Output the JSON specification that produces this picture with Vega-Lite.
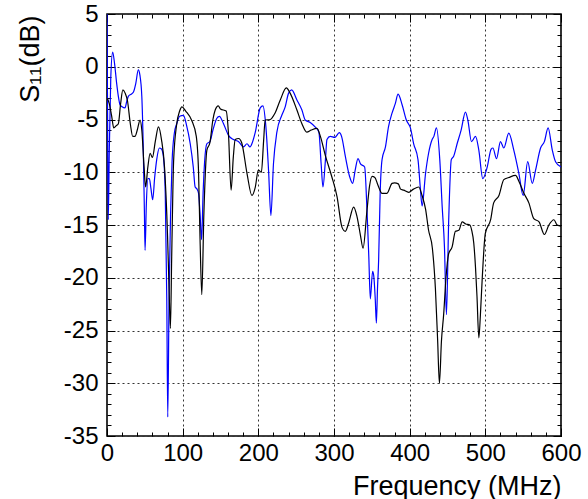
{
  "$schema": "https://vega.github.io/schema/vega-lite/v6.json",
  "autosize": {"type": "none"},
  "width": 454,
  "height": 422,
  "padding": {"left": 107, "top": 14, "right": 27, "bottom": 63},
  "background": "white",
  "config": {
    "view": {"stroke": "black", "strokeWidth": 1.6},
    "font": "Liberation Sans",
    "axis": {"labelFont": "Liberation Sans", "titleFont": "Liberation Sans", "labelColor": "black", "titleColor": "black", "tickColor": "black", "domain": false, "labelFlush": false, "labelOverlap": false, "titleFontWeight": "normal"}
  },
  "datasets": {
    "blue": [
      {"f":0,"d":5.0},{"f":0.8,"d":-5},{"f":1.7,"d":-14.5},{"f":3,"d":-8},{"f":5,"d":-1},{"f":7.5,"d":1.4},{"f":10,"d":0.3},{"f":12.8,"d":-1.6},{"f":15,"d":-2.8},{"f":17.2,"d":-3.6},{"f":20,"d":-3.8},{"f":23.8,"d":-3.9},{"f":26,"d":-3.3},{"f":28.2,"d":-2.8},{"f":32,"d":-2.6},{"f":35,"d":-2.4},{"f":38,"d":-1.6},{"f":41.4,"d":-0.3},{"f":43.5,"d":-0.8},{"f":46,"d":-2.8},{"f":48,"d":-8},{"f":49.4,"d":-13.6},{"f":50.3,"d":-17.4},{"f":52,"d":-13},{"f":54,"d":-10.6},{"f":56,"d":-10.6},{"f":58,"d":-11.5},{"f":60.4,"d":-12.6},{"f":63,"d":-10.5},{"f":65.7,"d":-8.8},{"f":69.3,"d":-7.7},{"f":72,"d":-7.8},{"f":74.5,"d":-8.5},{"f":77,"d":-12},{"f":79,"d":-22},{"f":80.3,"d":-33.2},{"f":82,"d":-22},{"f":84,"d":-14},{"f":86,"d":-9},{"f":89,"d":-6.3},{"f":92.2,"d":-5.4},{"f":96,"d":-4.7},{"f":101,"d":-4.6},{"f":105,"d":-5.5},{"f":110,"d":-7.3},{"f":114,"d":-9.5},{"f":116.5,"d":-11.4},{"f":119,"d":-11.6},{"f":121,"d":-12},{"f":123,"d":-14},{"f":125,"d":-16.4},{"f":127,"d":-12},{"f":129,"d":-9},{"f":132,"d":-7.3},{"f":136,"d":-7.1},{"f":140,"d":-6},{"f":145,"d":-4.9},{"f":148.5,"d":-4.7},{"f":154,"d":-5.4},{"f":160.5,"d":-6.5},{"f":167,"d":-6.9},{"f":174,"d":-7.1},{"f":180.4,"d":-7.6},{"f":185,"d":-7.3},{"f":189,"d":-7.6},{"f":192,"d":-7.2},{"f":196,"d":-6.2},{"f":202.5,"d":-3.9},{"f":206,"d":-3.7},{"f":210,"d":-5.7},{"f":213.5,"d":-9.8},{"f":216.6,"d":-14.1},{"f":220,"d":-9.2},{"f":224.5,"d":-6.2},{"f":231,"d":-4.6},{"f":235.5,"d":-3.8},{"f":240,"d":-2.5},{"f":244,"d":-2.2},{"f":251,"d":-3.15},{"f":257.6,"d":-4.1},{"f":262,"d":-5.05},{"f":269,"d":-5.3},{"f":275,"d":-5.7},{"f":280,"d":-6.2},{"f":283,"d":-9.2},{"f":285.4,"d":-11.4},{"f":288.5,"d":-9.0},{"f":290.7,"d":-6.9},{"f":295,"d":-6.6},{"f":301,"d":-6.7},{"f":307,"d":-6.25},{"f":310,"d":-6.6},{"f":315,"d":-8.5},{"f":320.6,"d":-10.4},{"f":324.6,"d":-11.05},{"f":328,"d":-9.8},{"f":331.7,"d":-8.7},{"f":335,"d":-9.2},{"f":340.5,"d":-9.5},{"f":343.6,"d":-13.6},{"f":346,"d":-18},{"f":348,"d":-22.0},{"f":351,"d":-19.4},{"f":352.5,"d":-19.8},{"f":354.5,"d":-22},{"f":356,"d":-24.3},{"f":357.5,"d":-21},{"f":359,"d":-18.3},{"f":361,"d":-12},{"f":363.5,"d":-8.8},{"f":368,"d":-7.6},{"f":372,"d":-5.7},{"f":376.7,"d":-4.4},{"f":381,"d":-3.5},{"f":384.7,"d":-2.6},{"f":390,"d":-3.6},{"f":395.6,"d":-5.05},{"f":401,"d":-5.8},{"f":405.3,"d":-7.3},{"f":411,"d":-8.8},{"f":414,"d":-11.4},{"f":416.4,"d":-13.2},{"f":421,"d":-10.1},{"f":425,"d":-8.2},{"f":429.7,"d":-6.9},{"f":432,"d":-6.6},{"f":435.4,"d":-5.8},{"f":439.8,"d":-8.8},{"f":443,"d":-13.3},{"f":446,"d":-17.1},{"f":448.6,"d":-23.5},{"f":451.6,"d":-14.5},{"f":455,"d":-8.8},{"f":458,"d":-8.5},{"f":462.7,"d":-7.3},{"f":468,"d":-6.0},{"f":473.7,"d":-4.3},{"f":477,"d":-5.1},{"f":481.7,"d":-7.1},{"f":487,"d":-6.6},{"f":491.4,"d":-7.9},{"f":496.6,"d":-10.6},{"f":502.5,"d":-9.5},{"f":507.7,"d":-7.8},{"f":510,"d":-7.7},{"f":514.8,"d":-8.7},{"f":520,"d":-7.1},{"f":524.4,"d":-7.7},{"f":531,"d":-6.3},{"f":537.6,"d":-7.9},{"f":544.3,"d":-10.1},{"f":550,"d":-12.2},{"f":556,"d":-9.0},{"f":562,"d":-11.05},{"f":566.4,"d":-9.8},{"f":573,"d":-7.7},{"f":578,"d":-7.1},{"f":583,"d":-5.8},{"f":588.5,"d":-7.9},{"f":592.8,"d":-9.0},{"f":600,"d":-9.5}
    ],
    "black": [
      {"f":0.5,"d":-3.0},{"f":3,"d":-3.5},{"f":6,"d":-4.6},{"f":9,"d":-5.8},{"f":12,"d":-5.6},{"f":15,"d":-5.4},{"f":18,"d":-3.5},{"f":21,"d":-2.2},{"f":24,"d":-2.5},{"f":27,"d":-3.2},{"f":31,"d":-5.5},{"f":34,"d":-6.6},{"f":37,"d":-6.6},{"f":40,"d":-6.0},{"f":43.7,"d":-5.05},{"f":46,"d":-6.0},{"f":49,"d":-9.5},{"f":51,"d":-11.4},{"f":54,"d":-9.5},{"f":57,"d":-8.2},{"f":60,"d":-8.6},{"f":64,"d":-7.0},{"f":68,"d":-5.7},{"f":72,"d":-6.9},{"f":76,"d":-9.5},{"f":80,"d":-16},{"f":82,"d":-21},{"f":83.8,"d":-24.8},{"f":85.5,"d":-18},{"f":88,"d":-9},{"f":92,"d":-5.5},{"f":96,"d":-4.2},{"f":99,"d":-3.8},{"f":104,"d":-4.2},{"f":112,"d":-5.1},{"f":118,"d":-6.6},{"f":121,"d":-10},{"f":123,"d":-16.4},{"f":125.3,"d":-21.6},{"f":128,"d":-14},{"f":132,"d":-7.9},{"f":136,"d":-7.2},{"f":140,"d":-5.0},{"f":143,"d":-4.1},{"f":147,"d":-3.7},{"f":150,"d":-4.0},{"f":157.5,"d":-4.2},{"f":160.5,"d":-6.3},{"f":164,"d":-11.7},{"f":167,"d":-8.5},{"f":169.4,"d":-6.9},{"f":174,"d":-6.8},{"f":178,"d":-7.2},{"f":185,"d":-10.1},{"f":191.5,"d":-12.2},{"f":196,"d":-11.4},{"f":200,"d":-9.8},{"f":204,"d":-10.0},{"f":207,"d":-7.0},{"f":209,"d":-5.05},{"f":215.7,"d":-5.0},{"f":222,"d":-4.4},{"f":229,"d":-3.15},{"f":237,"d":-2.0},{"f":242,"d":-2.5},{"f":251,"d":-4.1},{"f":257.6,"d":-5.4},{"f":264,"d":-6.2},{"f":270,"d":-6.0},{"f":277.5,"d":-5.85},{"f":282,"d":-6.6},{"f":288.5,"d":-8.4},{"f":297,"d":-10.4},{"f":304,"d":-12.3},{"f":310.5,"d":-15.2},{"f":315,"d":-15.6},{"f":319.4,"d":-14.8},{"f":326,"d":-13.3},{"f":330.4,"d":-14.2},{"f":335,"d":-16},{"f":338.4,"d":-17.2},{"f":343.6,"d":-13.6},{"f":347,"d":-11.3},{"f":350.3,"d":-10.4},{"f":354,"d":-10.5},{"f":358,"d":-11.2},{"f":363.5,"d":-12.0},{"f":370,"d":-12.0},{"f":376.7,"d":-11.05},{"f":380,"d":-11.0},{"f":385,"d":-11.1},{"f":388,"d":-11.6},{"f":392,"d":-11.7},{"f":398.8,"d":-11.9},{"f":405,"d":-11.6},{"f":412,"d":-11.4},{"f":416.4,"d":-12.2},{"f":421,"d":-13.5},{"f":425,"d":-15.5},{"f":430,"d":-17.2},{"f":434,"d":-21},{"f":437,"d":-26},{"f":439.3,"d":-30.0},{"f":442,"d":-26},{"f":445,"d":-23.4},{"f":448,"d":-20},{"f":451.6,"d":-17.7},{"f":456,"d":-17.1},{"f":460.5,"d":-15.6},{"f":465,"d":-15.5},{"f":469.4,"d":-14.7},{"f":474,"d":-14.9},{"f":479.5,"d":-15.0},{"f":482,"d":-15.5},{"f":484.7,"d":-16.7},{"f":487,"d":-19},{"f":489,"d":-21.8},{"f":491.4,"d":-25.7},{"f":493.5,"d":-23.5},{"f":495.8,"d":-20.2},{"f":500,"d":-15.8},{"f":507,"d":-14.5},{"f":511,"d":-12.9},{"f":518,"d":-12.2},{"f":524.4,"d":-10.7},{"f":531,"d":-10.5},{"f":540,"d":-10.3},{"f":544,"d":-10.8},{"f":551,"d":-12.0},{"f":557.5,"d":-12.9},{"f":564,"d":-14.4},{"f":571,"d":-14.7},{"f":578,"d":-15.9},{"f":584,"d":-15.0},{"f":590.6,"d":-14.5},{"f":595,"d":-15.0},{"f":600,"d":-15.1}
    ]
  },
  "resolve": {"axis": {"x": "independent", "y": "independent"}},
  "layer": [
    {
      "data": {"name": "blue"},
      "mark": {"type": "line", "color": "#0000ff", "strokeWidth": 1.2, "clip": true, "interpolate": "monotone"},
      "encoding": {
        "x": {"field": "f", "type": "quantitative", "scale": {"domain": [0, 600], "nice": false, "zero": false},
          "axis": {"orient": "bottom", "values": [0,100,200,300,400,500,600], "labelExpr": "'' + datum.value", "tickSize": -8, "labelPadding": 13, "labelFontSize": 24, "grid": true, "gridDash": [2,3], "gridColor": "#333", "gridWidth": 1,
            "title": "Frequency (MHz)", "titleFontSize": 27, "titleAnchor": "end", "titleAlign": "right", "titleBaseline": "alphabetic", "titleX": 454, "titleY": 58}},
        "y": {"field": "d", "type": "quantitative", "scale": {"domain": [-35, 5], "nice": false, "zero": false},
          "axis": {"orient": "left", "values": [-35,-30,-25,-20,-15,-10,-5,0,5], "labelExpr": "'' + datum.value", "tickSize": -8, "labelPadding": 17, "labelFontSize": 24, "grid": true, "gridDash": [2,3], "gridColor": "#333", "gridWidth": 1,
            "title": "S₁₁(dB)", "titleFontSize": 27, "titleAngle": -90, "titleAlign": "right", "titleBaseline": "middle", "titleX": -77, "titleY": 1}}
      }
    },
    {
      "data": {"name": "black"},
      "mark": {"type": "line", "color": "black", "strokeWidth": 1.2, "clip": true, "interpolate": "monotone"},
      "encoding": {
        "x": {"field": "f", "type": "quantitative",
          "axis": {"orient": "top", "values": [0,100,200,300,400,500,600], "tickSize": -8, "labels": false, "grid": false, "title": null}},
        "y": {"field": "d", "type": "quantitative",
          "axis": {"orient": "right", "values": [-35,-30,-25,-20,-15,-10,-5,0,5], "tickSize": -8, "labels": false, "grid": false, "title": null}}
      }
    },
    {
      "data": {"name": "black"},
      "mark": {"type": "line", "strokeOpacity": 0},
      "encoding": {
        "x": {"field": "f", "type": "quantitative",
          "axis": {"orient": "bottom", "values": [0,20,40,60,80,100,120,140,160,180,200,220,240,260,280,300,320,340,360,380,400,420,440,460,480,500,520,540,560,580,600], "tickSize": -4, "labels": false, "grid": false, "title": null}},
        "y": {"field": "d", "type": "quantitative",
          "axis": {"orient": "left", "values": [-35,-34,-33,-32,-31,-30,-29,-28,-27,-26,-25,-24,-23,-22,-21,-20,-19,-18,-17,-16,-15,-14,-13,-12,-11,-10,-9,-8,-7,-6,-5,-4,-3,-2,-1,0,1,2,3,4,5], "tickSize": -4, "labels": false, "grid": false, "title": null}}
      }
    },
    {
      "data": {"name": "black"},
      "mark": {"type": "line", "strokeOpacity": 0},
      "encoding": {
        "x": {"field": "f", "type": "quantitative",
          "axis": {"orient": "top", "values": [0,20,40,60,80,100,120,140,160,180,200,220,240,260,280,300,320,340,360,380,400,420,440,460,480,500,520,540,560,580,600], "tickSize": -4, "labels": false, "grid": false, "title": null}},
        "y": {"field": "d", "type": "quantitative",
          "axis": {"orient": "right", "values": [-35,-34,-33,-32,-31,-30,-29,-28,-27,-26,-25,-24,-23,-22,-21,-20,-19,-18,-17,-16,-15,-14,-13,-12,-11,-10,-9,-8,-7,-6,-5,-4,-3,-2,-1,0,1,2,3,4,5], "tickSize": -4, "labels": false, "grid": false, "title": null}}
      }
    }
  ]
}
